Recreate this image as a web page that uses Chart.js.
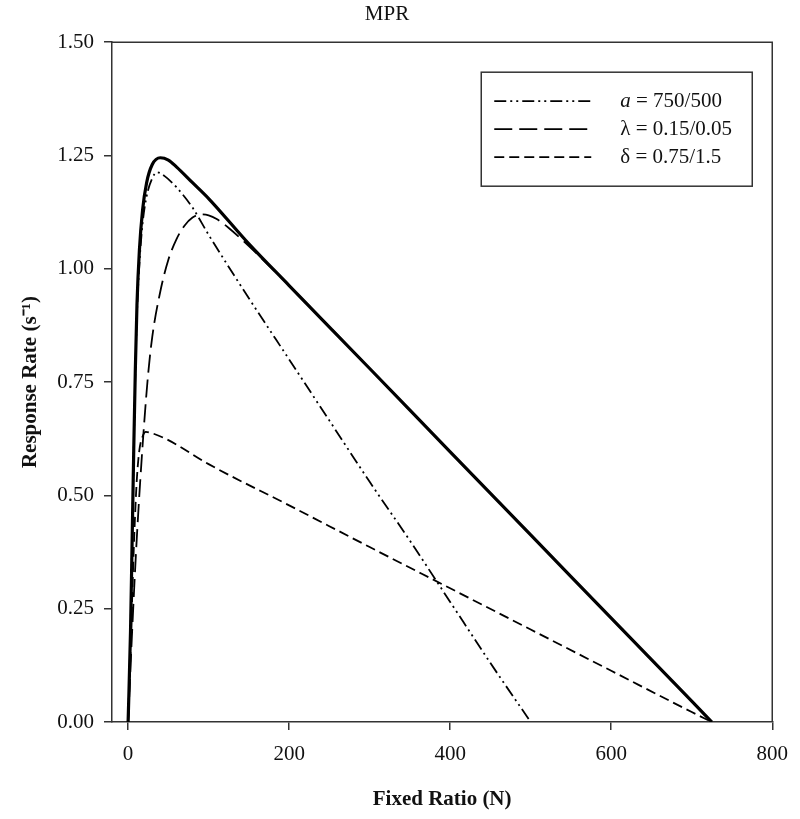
<!DOCTYPE html>
<html>
<head>
<meta charset="utf-8">
<title>MPR</title>
<script src="https://cdn.jsdelivr.net/npm/chart.js@4.4.1/dist/chart.umd.min.js"></script>
<style>
  html, body { margin: 0; padding: 0; background: #fff; }
  #wrap { width: 800px; height: 819px; }
</style>
</head>
<body>
<div id="wrap"><canvas id="mprChart"></canvas></div>
<script>
// Data (N = fixed ratio, rate = responses per second)
const solidN    = [0, 3, 5, 7, 9, 11, 14, 18, 23, 30, 40, 50, 60, 80, 100, 150, 200, 300, 400, 500, 600, 700, 725];
const solidRate = [0, 0.20, 0.40, 0.60, 0.78, 0.92, 1.04, 1.13, 1.19, 1.23, 1.245, 1.24, 1.225, 1.19, 1.155, 1.055, 0.963, 0.78, 0.596, 0.413, 0.229, 0.046, 0];

const aN    = [0, 3, 5, 7, 9, 11, 14, 18, 23, 30, 36, 45, 60, 80, 100, 150, 200, 250, 300, 350, 400, 450, 500];
const aRate = [0, 0.20, 0.40, 0.60, 0.77, 0.90, 1.01, 1.10, 1.16, 1.20, 1.213, 1.205, 1.18, 1.135, 1.075, 0.935, 0.80, 0.665, 0.53, 0.40, 0.265, 0.13, 0];

const lambdaN    = [0, 5, 10, 15, 20, 25, 30, 40, 50, 60, 70, 80, 90, 100, 110, 125, 150, 200, 300, 400, 500, 600, 700, 725];
const lambdaRate = [0, 0.20, 0.38, 0.53, 0.66, 0.77, 0.85, 0.95, 1.02, 1.065, 1.095, 1.113, 1.12, 1.118, 1.11, 1.09, 1.05, 0.963, 0.78, 0.596, 0.413, 0.229, 0.046, 0];

const deltaN    = [0, 3, 5, 7, 9, 11, 14, 18, 22, 30, 50, 100, 200, 300, 400, 500, 600, 700, 725];
const deltaRate = [0, 0.15, 0.27, 0.38, 0.47, 0.54, 0.60, 0.63, 0.64, 0.637, 0.622, 0.569, 0.478, 0.386, 0.295, 0.204, 0.113, 0.022, 0];

const xTicks = [0, 200, 400, 600, 800];
const yTicks = [0, 0.25, 0.5, 0.75, 1.0, 1.25, 1.5];

// legend entries: symbol + rest of the label
const legendSymbol = ['a', 'λ', 'δ'];
const legendText   = [' = 750/500', ' = 0.15/0.05', ' = 0.75/1.5'];
const legendItalic = [true, false, false];

const axisColor = '#333';
const serif = '"Liberation Serif", "Times New Roman", serif';

Chart.defaults.font.family = serif;
Chart.defaults.color = '#111';

const toPoints = (xs, ys) => xs.map((x, i) => ({ x: x, y: ys[i] }));

const datasets = [
    { data: toPoints(aN, aRate), borderDash: [12, 4, 2, 4, 2, 4], borderWidth: 1.8, legend: 0 },
    { data: toPoints(lambdaN, lambdaRate), borderDash: [18, 7], borderWidth: 1.8, legend: 1 },
    { data: toPoints(deltaN, deltaRate), borderDash: [10, 5], borderWidth: 1.8, legend: 2 },
    { data: toPoints(solidN, solidRate), borderDash: [], borderWidth: 3.2 }
].map(d => Object.assign({
    showLine: true,
    borderColor: '#000',
    pointRadius: 0,
    cubicInterpolationMode: 'monotone',
    fill: false
}, d));

// top and right sides of the plot box
const framePlugin = {
    id: 'frame',
    afterDatasetsDraw(chart) {
        const { ctx, chartArea: a } = chart;
        ctx.save();
        ctx.strokeStyle = axisColor;
        ctx.lineWidth = 1.5;
        ctx.beginPath();
        ctx.moveTo(a.left, a.top);
        ctx.lineTo(a.right, a.top);
        ctx.lineTo(a.right, a.bottom);
        ctx.stroke();
        ctx.restore();
    }
};

// boxed legend in the upper right corner of the plot
const boxLegend = {
    id: 'boxLegend',
    afterDraw(chart) {
        const { ctx, chartArea: a } = chart;
        const w = 271, h = 114;
        const left = a.right - 20 - w, top = a.top + 30;
        ctx.save();
        ctx.fillStyle = '#fff';
        ctx.fillRect(left, top, w, h);
        ctx.strokeStyle = axisColor;
        ctx.lineWidth = 1.5;
        ctx.strokeRect(left, top, w, h);

        const rows = chart.data.datasets.filter(d => d.legend !== undefined);
        rows.forEach((ds, i) => {
            const y = top + 29 + i * 28;
            ctx.strokeStyle = '#000';
            ctx.lineWidth = ds.borderWidth;
            ctx.setLineDash(ds.borderDash);
            ctx.beginPath();
            ctx.moveTo(left + 13, y);
            ctx.lineTo(left + 110, y);
            ctx.stroke();
            ctx.setLineDash([]);

            const k = ds.legend;
            ctx.fillStyle = '#111';
            ctx.textBaseline = 'middle';
            ctx.font = (legendItalic[k] ? 'italic ' : '') + '21px ' + serif;
            const tx = left + 139;
            ctx.fillText(legendSymbol[k], tx, y);
            const sw = ctx.measureText(legendSymbol[k]).width;
            ctx.font = '21px ' + serif;
            ctx.fillText(legendText[k], tx + sw, y);
        });
        ctx.restore();
    }
};

new Chart(document.getElementById('mprChart'), {
    type: 'scatter',
    data: { datasets: datasets },
    options: {
        responsive: true,
        maintainAspectRatio: false,
        animation: false,
        layout: { padding: { left: 0, right: 26, top: 0, bottom: 0 } },
        plugins: {
            legend: { display: false },
            tooltip: { enabled: false },
            title: {
                display: true,
                text: 'MPR',
                font: { size: 21, weight: 'normal' },
                color: '#111',
                padding: { top: 2, bottom: 15 }
            }
        },
        scales: {
            x: {
                type: 'linear',
                min: -20,
                max: 800,
                afterBuildTicks: axis => { axis.ticks = xTicks.map(v => ({ value: v })); },
                afterFit: scale => { scale.height = 97; },
                ticks: { font: { size: 21 }, color: '#111', padding: 12, maxRotation: 0 },
                grid: { drawOnChartArea: false, drawTicks: true, tickLength: 8, color: axisColor, lineWidth: 1.5 },
                border: { display: true, color: axisColor, width: 1.5 },
                title: {
                    display: true,
                    text: 'Fixed Ratio (N)',
                    font: { size: 21, weight: 'bold' },
                    color: '#111',
                    padding: { top: 0, bottom: 7 }
                }
            },
            y: {
                type: 'linear',
                min: 0,
                max: 1.5,
                afterBuildTicks: axis => { axis.ticks = yTicks.map(v => ({ value: v })); },
                afterFit: scale => { scale.width = 112; },
                ticks: { font: { size: 21 }, color: '#111', padding: 10, callback: v => v.toFixed(2) },
                grid: { drawOnChartArea: false, drawTicks: true, tickLength: 8, color: axisColor, lineWidth: 1.5 },
                border: { display: true, color: axisColor, width: 1.5 },
                title: {
                    display: true,
                    text: 'Response Rate (s⁻¹)',
                    font: { size: 21, weight: 'bold' },
                    color: '#111',
                    padding: { top: 18, bottom: 0 }
                }
            }
        }
    },
    plugins: [framePlugin, boxLegend]
});
</script>
</body>
</html>
